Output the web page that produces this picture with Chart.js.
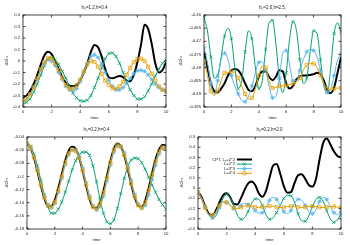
<!DOCTYPE html>
<html><head><meta charset="utf-8">
<script src="https://cdn.jsdelivr.net/npm/chart.js@4.4.1/dist/chart.umd.min.js"></script>
<style>
html,body{margin:0;padding:0;background:#fff;width:350px;height:245px;overflow:hidden}
canvas{position:absolute}
</style></head><body>
<canvas id="c1" width="175" height="122" style="left:0;top:0"></canvas>
<canvas id="c2" width="175" height="122" style="left:175px;top:0"></canvas>
<canvas id="c3" width="175" height="122" style="left:0;top:122px"></canvas>
<canvas id="c4" width="175" height="122" style="left:175px;top:122px"></canvas>
<script>
// ---------- data ----------
const TIME = [0,0.25,0.5,0.75,1,1.25,1.5,1.75,2,2.25,2.5,2.75,3,3.25,3.5,3.75,4,4.25,4.5,4.75,5,5.25,5.5,5.75,6,6.25,6.5,6.75,7,7.25,7.5,7.75,8,8.25,8.5,8.75,9,9.25,9.5,9.75,10];
const X_TICKS = [0,2,4,6,8,10];
const SERIES_NAMES = ['CPT, L_c=2*2','L=2*2','L=3*3','L=4*4'];
const Y_LABEL = '-δGᴸz';
const X_LABEL = 'time';

const P1_TITLE = 'h₀=1.2,h=0.4';
const P1_Y_TICKS = [-0.4,-0.3,-0.2,-0.1,0,0.1,0.2,0.3,0.4];
const P1_CPT = [-0.32,-0.30,-0.26,-0.20,-0.12,-0.03,0.05,0.08,0.06,0.00,-0.07,-0.14,-0.19,-0.215,-0.22,-0.21,-0.17,-0.10,-0.02,0.08,0.14,0.12,0.04,-0.07,-0.14,-0.15,-0.14,-0.13,-0.14,-0.17,-0.175,-0.12,-0.01,0.14,0.315,0.28,0.15,-0.02,-0.10,-0.08,-0.01];
const P1_L2 = [-0.37,-0.36,-0.33,-0.27,-0.20,-0.12,-0.04,0.02,0.03,0.01,-0.03,-0.09,-0.15,-0.22,-0.28,-0.32,-0.345,-0.35,-0.34,-0.30,-0.23,-0.15,-0.06,0.02,0.065,0.07,0.04,-0.02,-0.10,-0.18,-0.25,-0.30,-0.33,-0.33,-0.31,-0.26,-0.20,-0.13,-0.07,-0.02,0.01];
const P1_L3 = [-0.35,-0.33,-0.29,-0.23,-0.16,-0.08,-0.02,0.01,0.00,-0.04,-0.10,-0.16,-0.22,-0.25,-0.26,-0.24,-0.18,-0.10,-0.02,0.04,0.055,0.03,-0.03,-0.10,-0.17,-0.22,-0.25,-0.25,-0.23,-0.19,-0.15,-0.11,-0.085,-0.08,-0.09,-0.12,-0.16,-0.20,-0.23,-0.25,-0.26];
const P1_L4 = [-0.35,-0.33,-0.29,-0.23,-0.15,-0.07,-0.01,0.025,0.02,-0.02,-0.08,-0.15,-0.21,-0.24,-0.24,-0.21,-0.16,-0.09,-0.03,0.00,-0.01,-0.05,-0.11,-0.17,-0.21,-0.235,-0.24,-0.22,-0.18,-0.12,-0.06,-0.01,0.015,0.02,0.00,-0.05,-0.11,-0.17,-0.22,-0.25,-0.265];

const P2_TITLE = 'h₀=2.0,h=2.5,';
const P2_Y_TICKS = [-0.495,-0.49,-0.485,-0.48,-0.475,-0.47,-0.465,-0.46];
const P2_CPT = [-0.474,-0.480,-0.486,-0.489,-0.4895,-0.488,-0.486,-0.483,-0.481,-0.4805,-0.481,-0.483,-0.486,-0.4885,-0.489,-0.487,-0.4835,-0.4815,-0.4815,-0.4835,-0.4848,-0.4835,-0.481,-0.4815,-0.486,-0.488,-0.487,-0.4845,-0.4833,-0.483,-0.483,-0.4828,-0.4825,-0.482,-0.4825,-0.485,-0.4885,-0.4897,-0.4875,-0.482,-0.476];
const P2_L2 = [-0.461,-0.466,-0.476,-0.484,-0.483,-0.476,-0.468,-0.465,-0.469,-0.480,-0.488,-0.485,-0.474,-0.466,-0.469,-0.480,-0.488,-0.485,-0.473,-0.463,-0.462,-0.471,-0.484,-0.4895,-0.482,-0.469,-0.4625,-0.466,-0.477,-0.486,-0.484,-0.474,-0.466,-0.467,-0.477,-0.487,-0.4895,-0.480,-0.467,-0.463,-0.4665];
const P2_L3 = [-0.4725,-0.478,-0.486,-0.490,-0.485,-0.477,-0.4745,-0.477,-0.483,-0.487,-0.490,-0.4925,-0.493,-0.491,-0.487,-0.482,-0.478,-0.4778,-0.481,-0.487,-0.4915,-0.491,-0.484,-0.4745,-0.4735,-0.479,-0.485,-0.485,-0.481,-0.477,-0.474,-0.473,-0.4735,-0.476,-0.481,-0.487,-0.4895,-0.488,-0.483,-0.477,-0.475];
const P2_L4 = [-0.4775,-0.483,-0.489,-0.4905,-0.489,-0.485,-0.482,-0.482,-0.4815,-0.482,-0.484,-0.487,-0.490,-0.492,-0.4915,-0.488,-0.483,-0.4795,-0.480,-0.485,-0.4878,-0.4875,-0.487,-0.487,-0.4868,-0.4865,-0.486,-0.4855,-0.484,-0.481,-0.479,-0.4785,-0.4785,-0.480,-0.483,-0.486,-0.488,-0.4885,-0.488,-0.4878,-0.4878];

const P3_TITLE = 'h₀=0.2,h=0.4';
const P3_Y_TICKS = [-0.18,-0.16,-0.14,-0.12,-0.1,-0.08,-0.06,-0.04];
const P3_CPT = [-0.050,-0.056,-0.071,-0.092,-0.114,-0.133,-0.145,-0.145,-0.136,-0.118,-0.097,-0.076,-0.061,-0.055,-0.058,-0.071,-0.091,-0.114,-0.134,-0.147,-0.148,-0.140,-0.122,-0.099,-0.077,-0.058,-0.050,-0.054,-0.068,-0.089,-0.112,-0.132,-0.144,-0.146,-0.137,-0.118,-0.095,-0.074,-0.059,-0.052,-0.053];
const P3_L2 = [-0.050,-0.054,-0.066,-0.084,-0.106,-0.128,-0.146,-0.156,-0.156,-0.150,-0.139,-0.124,-0.107,-0.090,-0.076,-0.067,-0.063,-0.063,-0.068,-0.084,-0.108,-0.134,-0.156,-0.169,-0.172,-0.166,-0.149,-0.126,-0.103,-0.085,-0.075,-0.072,-0.073,-0.079,-0.089,-0.101,-0.113,-0.124,-0.135,-0.143,-0.150];
const P3_L3 = [-0.050,-0.055,-0.069,-0.089,-0.111,-0.130,-0.143,-0.147,-0.141,-0.124,-0.103,-0.082,-0.067,-0.060,-0.060,-0.069,-0.087,-0.109,-0.130,-0.145,-0.151,-0.146,-0.130,-0.107,-0.083,-0.063,-0.054,-0.054,-0.064,-0.083,-0.106,-0.127,-0.142,-0.148,-0.144,-0.128,-0.105,-0.083,-0.066,-0.057,-0.056];
const P3_L4 = [-0.050,-0.056,-0.071,-0.091,-0.113,-0.132,-0.144,-0.147,-0.139,-0.121,-0.100,-0.079,-0.065,-0.059,-0.061,-0.072,-0.091,-0.113,-0.133,-0.146,-0.149,-0.142,-0.125,-0.102,-0.079,-0.060,-0.052,-0.055,-0.068,-0.088,-0.111,-0.131,-0.144,-0.148,-0.140,-0.121,-0.098,-0.077,-0.062,-0.056,-0.058];

const P4_TITLE = 'h₀=0.2,h=2.0';
const P4_Y_TICKS = [-0.4,-0.3,-0.2,-0.1,0,0.1,0.2,0.3,0.4,0.5];
const P4_CPT = [-0.04,-0.09,-0.18,-0.25,-0.265,-0.22,-0.14,-0.07,-0.05,-0.09,-0.155,-0.16,-0.10,-0.02,0.045,0.065,0.03,-0.05,-0.085,-0.03,0.10,0.22,0.235,0.14,0.02,-0.045,-0.04,0.05,0.125,0.135,0.09,0.03,0.015,0.09,0.28,0.44,0.485,0.43,0.36,0.315,0.30];
const P4_L2 = [-0.04,-0.10,-0.19,-0.26,-0.295,-0.27,-0.19,-0.10,-0.06,-0.09,-0.17,-0.26,-0.305,-0.29,-0.23,-0.15,-0.105,-0.11,-0.17,-0.26,-0.305,-0.29,-0.24,-0.17,-0.10,-0.07,-0.075,-0.14,-0.25,-0.32,-0.325,-0.27,-0.18,-0.11,-0.09,-0.13,-0.22,-0.30,-0.335,-0.31,-0.25];
const P4_L3 = [-0.04,-0.10,-0.19,-0.26,-0.275,-0.25,-0.18,-0.135,-0.14,-0.17,-0.20,-0.20,-0.17,-0.15,-0.16,-0.19,-0.22,-0.245,-0.24,-0.19,-0.12,-0.09,-0.11,-0.17,-0.23,-0.25,-0.22,-0.15,-0.11,-0.12,-0.17,-0.23,-0.25,-0.21,-0.13,-0.09,-0.11,-0.18,-0.24,-0.26,-0.23];
const P4_L4 = [-0.04,-0.10,-0.19,-0.255,-0.265,-0.23,-0.17,-0.135,-0.14,-0.17,-0.195,-0.20,-0.19,-0.175,-0.17,-0.175,-0.185,-0.19,-0.185,-0.18,-0.175,-0.178,-0.185,-0.19,-0.188,-0.18,-0.177,-0.18,-0.186,-0.19,-0.186,-0.18,-0.178,-0.182,-0.188,-0.19,-0.186,-0.18,-0.18,-0.185,-0.19];

// ---------- style ----------
const FONT = '"Liberation Sans", Arial, sans-serif';
const TXT = '#222';
const COLORS = ['#000000','#009e73','#56b4e9','#e69f00'];
const WIDTHS = [2, 1, 1, 1];
const MARKERS = [false,'crossRot','star','rect'];
const MARKER_R = 2.3;

function fmt(v){ return String(+v.toFixed(4)); }

function drawMarker(ctx, style, x, y, r){
  const d = r*Math.SQRT1_2;
  ctx.beginPath();
  if (style==='crossRot' || style==='star'){
    ctx.moveTo(x-d,y-d); ctx.lineTo(x+d,y+d); ctx.moveTo(x-d,y+d); ctx.lineTo(x+d,y-d);
  }
  if (style==='star'){ ctx.moveTo(x-r,y); ctx.lineTo(x+r,y); ctx.moveTo(x,y-r); ctx.lineTo(x,y+r); }
  if (style==='rect'){ ctx.rect(x-d,y-d,2*d,2*d); }
  ctx.stroke();
}

const boxTicks = {
  id:'boxTicks',
  afterDatasetsDraw(chart){
    const {ctx, chartArea:a, scales} = chart;
    ctx.save();
    ctx.strokeStyle = '#1a1a1a'; ctx.lineWidth = 0.8;
    ctx.strokeRect(a.left, a.top, a.right-a.left, a.bottom-a.top);
    const L = 2.5;
    ctx.beginPath();
    scales.x.ticks.forEach(t=>{ const p = scales.x.getPixelForValue(t.value);
      ctx.moveTo(p,a.bottom); ctx.lineTo(p,a.bottom-L); ctx.moveTo(p,a.top); ctx.lineTo(p,a.top+L); });
    scales.y.ticks.forEach(t=>{ const p = scales.y.getPixelForValue(t.value);
      ctx.moveTo(a.left,p); ctx.lineTo(a.left+L,p); ctx.moveTo(a.right,p); ctx.lineTo(a.right-L,p); });
    ctx.stroke();
    ctx.restore();
  }
};

const keyLegend = {
  id:'keyLegend',
  afterDraw(chart, args, opts){
    if (!opts.show) return;
    const {ctx, chartArea:a} = chart;
    const fs = 4.2, fsSub = 3;
    chart.data.datasets.forEach((ds,i)=>{
      const y = a.top + opts.top + i*opts.gap;
      const xr = a.left + opts.textRight;
      const parts = ds.label.split(/_(\w)/);
      ctx.save();
      ctx.fillStyle = TXT; ctx.textBaseline = 'middle'; ctx.textAlign = 'left';
      let widths = parts.map((s,k)=>{ ctx.font = (k%2? fsSub: fs)+'px '+FONT; return ctx.measureText(s).width; });
      let x = xr - widths.reduce((p,c)=>p+c,0);
      parts.forEach((s,k)=>{ ctx.font = (k%2? fsSub: fs)+'px '+FONT; ctx.fillText(s, x, y + (k%2?1.2:0)); x += widths[k]; });
      const x0 = a.left + opts.sampleStart, x1 = a.left + opts.sampleEnd;
      ctx.strokeStyle = ds.borderColor; ctx.lineWidth = ds.borderWidth;
      ctx.beginPath(); ctx.moveTo(x0,y); ctx.lineTo(x1,y); ctx.stroke();
      if (ds.pointStyle){ ctx.lineWidth = 0.7; drawMarker(ctx, ds.pointStyle, (x0+x1)/2, y, MARKER_R); }
      ctx.restore();
    });
  }
};

function makeDatasets(series, every){
  return series.map((vals,i)=>({
    label: SERIES_NAMES[i],
    data: TIME.map((t,k)=>({x:t, y:vals[k]})),
    borderColor: COLORS[i], backgroundColor: COLORS[i],
    borderWidth: WIDTHS[i],
    pointStyle: MARKERS[i],
    pointRadius: MARKERS[i] ? (c => c.dataIndex % every === 0 ? MARKER_R : 0) : 0,
    pointHoverRadius: 0,
    pointBorderColor: COLORS[i],
    pointBackgroundColor: MARKERS[i]==='rect' ? 'rgba(0,0,0,0)' : COLORS[i],
    pointBorderWidth: 0.75,
    cubicInterpolationMode: 'monotone',
    fill: false,
    order: 4 - i
  }));
}

function makeChart(id, p){
  const f = {size:4.2, family:FONT};
  return new Chart(document.getElementById(id), {
    type:'line',
    data:{datasets: makeDatasets(p.series, p.every)},
    options:{
      responsive:false, animation:false, devicePixelRatio:1,
      layout:{padding:{left:0, right:9, top:0, bottom:0}},
      plugins:{
        legend:{display:false}, tooltip:{enabled:false},
        title:{display:true, text:p.title, fullSize:false, color:TXT, font:{size:4.5, family:FONT, weight:'normal'}, padding:{top:5, bottom:4.6}},
        keyLegend: p.legend || {show:false}
      },
      scales:{
        x:{type:'linear', min:0, max:10,
          afterBuildTicks: s => { s.ticks = X_TICKS.map(v=>({value:v})); },
          afterFit: s => { s.height = 15; },
          ticks:{padding:2, font:f, color:TXT, autoSkip:false, maxRotation:0, callback:v=>fmt(v)},
          grid:{display:false, drawTicks:false}, border:{display:false},
          title:{display:true, text:X_LABEL, color:TXT, font:f, padding:{top:0, bottom:1.6}}
        },
        y:{type:'linear', min:p.yTicks[0], max:p.yTicks[p.yTicks.length-1],
          afterBuildTicks: s => { s.ticks = p.yTicks.map(v=>({value:v})); },
          afterFit: s => { s.width = p.axisW; },
          ticks:{padding:3, font:f, color:TXT, autoSkip:false, callback:v=>fmt(v)},
          grid:{display:false, drawTicks:false}, border:{display:false},
          title:{display:true, text:Y_LABEL, color:TXT, font:f, padding:{top:p.ytx-2.5, bottom:0}}
        }
      }
    },
    plugins:[boxTicks, keyLegend]
  });
}

makeChart('c1', {title:P1_TITLE, yTicks:P1_Y_TICKS, series:[P1_CPT,P1_L2,P1_L3,P1_L4], every:1, axisW:23, ytx:7});
makeChart('c2', {title:P2_TITLE, yTicks:P2_Y_TICKS, series:[P2_CPT,P2_L2,P2_L3,P2_L4], every:2, axisW:29, ytx:5.5});
makeChart('c3', {title:P3_TITLE, yTicks:P3_Y_TICKS, series:[P3_CPT,P3_L2,P3_L3,P3_L4], every:1, axisW:27, ytx:7});
makeChart('c4', {title:P4_TITLE, yTicks:P4_Y_TICKS, series:[P4_CPT,P4_L2,P4_L3,P4_L4], every:2, axisW:23, ytx:7,
  legend:{show:true, textRight:37, sampleStart:39, sampleEnd:54, top:22.5, gap:4.6}});
</script>
</body></html>
